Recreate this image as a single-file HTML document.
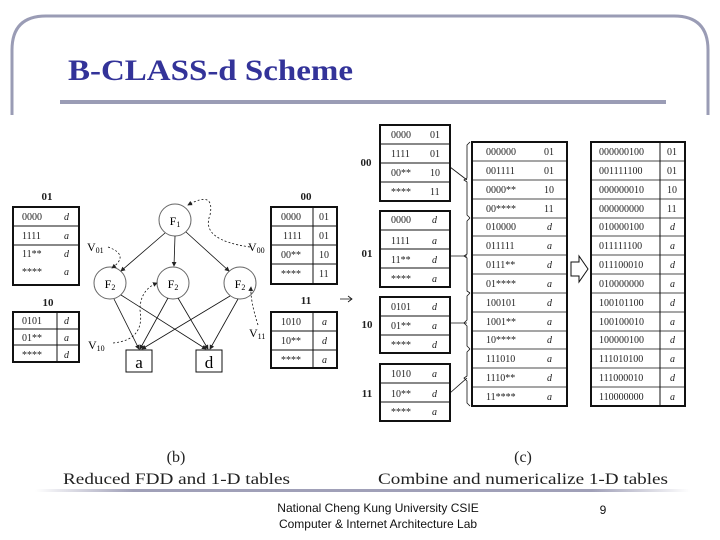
<!DOCTYPE html>
<html><head><meta charset="utf-8"><style>
body{margin:0;background:#fff;}
svg{display:block;font-family:"Liberation Serif",serif;}
.t{font-size:10px;fill:#222}
.i{font-size:10px;font-style:italic;fill:#222}
.b{font-size:11px;font-weight:bold;fill:#222}
</style></head><body>
<svg width="720" height="540" viewBox="0 0 720 540">
<defs>
<marker id="ar" markerWidth="6" markerHeight="6" refX="5" refY="3" orient="auto"><path d="M0,0 L6,3 L0,6 z" fill="#222"/></marker>
<linearGradient id="g" x1="0" x2="1"><stop offset="0" stop-color="#fff"/><stop offset="0.15" stop-color="#a0a0b8"/><stop offset="0.85" stop-color="#a0a0b8"/><stop offset="1" stop-color="#fff"/></linearGradient>
</defs>
<!-- frame -->
<path d="M12,115 L12,50 Q12,16 46,16 L674,16 Q708,16 708,50 L708,115" fill="none" stroke="#9a9cb5" stroke-width="3"/>
<rect x="60" y="100" width="606" height="4" fill="#9a9cb5"/>
<text x="68" y="80" textLength="285" lengthAdjust="spacingAndGlyphs" style="font-size:30px;font-weight:bold;fill:#333399">B-CLASS-d  Scheme</text>
<rect x="35" y="489" width="655" height="3" fill="url(#g)"/>
<text x="378" y="512" text-anchor="middle" style="font-family:'Liberation Sans',sans-serif;font-size:12px;fill:#111">National Cheng Kung University CSIE</text>
<text x="378" y="528" text-anchor="middle" style="font-family:'Liberation Sans',sans-serif;font-size:12px;fill:#111">Computer &amp; Internet Architecture Lab</text>
<text x="603" y="514" text-anchor="middle" style="font-family:'Liberation Sans',sans-serif;font-size:12px;fill:#111">9</text>

<g stroke="#111" fill="none">
<rect x="13" y="207" width="66" height="78" stroke-width="2"/>
<line x1="13" y1="226" x2="79" y2="226"/><line x1="13" y1="245" x2="79" y2="245"/>
<rect x="13" y="312" width="66" height="50" stroke-width="2"/>
<line x1="13" y1="329" x2="79" y2="329"/><line x1="13" y1="345" x2="79" y2="345"/><line x1="57" y1="312" x2="57" y2="362"/>
<rect x="271" y="207" width="66" height="77" stroke-width="2"/>
<line x1="271" y1="226" x2="337" y2="226"/><line x1="271" y1="245" x2="337" y2="245"/><line x1="271" y1="264" x2="337" y2="264"/><line x1="313" y1="207" x2="313" y2="284"/>
<rect x="271" y="312" width="66" height="56" stroke-width="2"/>
<line x1="271" y1="331" x2="337" y2="331"/><line x1="271" y1="350" x2="337" y2="350"/><line x1="313" y1="312" x2="313" y2="368"/>
<g stroke="#666"><circle cx="175" cy="220" r="16"/><circle cx="110" cy="283" r="16"/><circle cx="173" cy="283" r="16"/><circle cx="240" cy="283" r="16"/></g>
<rect x="126" y="350" width="26" height="22"/><rect x="196" y="350" width="26" height="22"/>
<g stroke-width="0.8" marker-end="url(#ar)">
<line x1="165" y1="233" x2="121" y2="271"/><line x1="175" y1="236" x2="174" y2="266"/><line x1="186" y1="232" x2="229" y2="271"/>
<line x1="114" y1="299" x2="139" y2="349"/><line x1="121" y1="295" x2="206" y2="349"/>
<line x1="168" y1="298" x2="140" y2="349"/><line x1="178" y1="298" x2="208" y2="349"/>
<line x1="230" y1="296" x2="142" y2="349"/><line x1="238" y1="299" x2="210" y2="349"/>
</g>
<g stroke-dasharray="2,2" stroke-width="0.8" marker-end="url(#ar)">
<path d="M108,247 Q130,255 112,268"/>
<path d="M113,343 Q145,340 140,310 Q140,290 157,283"/>
<path d="M250,247 Q200,240 210,215 Q215,190 188,205"/>
<path d="M258,325 Q250,300 251,287"/>
</g>
<path d="M340,299 L352,299 M348,296 L352,299 L348,302" stroke-width="0.8"/>
<rect x="380" y="125" width="70" height="76" stroke-width="2"/>
<line x1="380" y1="144" x2="450" y2="144"/><line x1="380" y1="163" x2="450" y2="163"/><line x1="380" y1="182" x2="450" y2="182"/>
<rect x="380" y="211" width="70" height="76" stroke-width="2"/>
<line x1="380" y1="230" x2="450" y2="230"/><line x1="380" y1="249" x2="450" y2="249"/><line x1="380" y1="268" x2="450" y2="268"/>
<rect x="380" y="297" width="70" height="56" stroke-width="2"/>
<line x1="380" y1="316" x2="450" y2="316"/><line x1="380" y1="335" x2="450" y2="335"/>
<rect x="380" y="364" width="70" height="57" stroke-width="2"/>
<line x1="380" y1="383" x2="450" y2="383"/><line x1="380" y1="402" x2="450" y2="402"/>
<g stroke-width="0.8">
<path d="M450,167 L467,180"/><path d="M450,256 L467,256"/><path d="M450,323 L467,323"/><path d="M450,393 L467,378"/>
<path d="M470,142 L467,145 L467,178 L464,180 L467,182 L467,215 L470,218"/>
<path d="M470,218 L467,221 L467,254 L464,256 L467,258 L467,291 L470,293"/>
<path d="M470,293 L467,296 L467,320 L464,323 L467,326 L467,346 L470,349"/>
<path d="M470,349 L467,352 L467,376 L464,378 L467,381 L467,403 L470,406"/>
</g>
<rect x="472" y="142" width="95" height="264" stroke-width="2"/>
<rect x="591" y="142" width="94" height="264" stroke-width="2"/>
<line x1="660" y1="142" x2="660" y2="406"/>
<g stroke-width="0.8">
<path d="M472,161H567M472,180H567M472,199H567M472,218H567M472,236H567M472,255H567M472,274H567M472,293H567M472,312H567M472,331H567M472,349H567M472,368H567M472,387H567"/>
<path d="M591,161H685M591,180H685M591,199H685M591,218H685M591,236H685M591,255H685M591,274H685M591,293H685M591,312H685M591,331H685M591,349H685M591,368H685M591,387H685"/>
</g>
<path d="M571,262 L579,262 L579,256 L588,269 L579,282 L579,276 L571,276 Z" stroke-width="1"/>
</g>

<text class="b" x="47" y="200" text-anchor="middle">01</text>
<text class="t" x="22" y="220">0000</text><text class="i" x="64" y="220">d</text>
<text class="t" x="22" y="239">1111</text><text class="i" x="64" y="239">a</text>
<text class="t" x="22" y="257">11**</text><text class="i" x="64" y="257">d</text>
<text class="t" x="22" y="275">****</text><text class="i" x="64" y="275">a</text>
<text class="b" x="48" y="306" text-anchor="middle">10</text>
<text class="t" x="22" y="324">0101</text><text class="i" x="64" y="324">d</text>
<text class="t" x="22" y="341">01**</text><text class="i" x="64" y="341">a</text>
<text class="t" x="22" y="358">****</text><text class="i" x="64" y="358">d</text>
<text class="b" x="306" y="200" text-anchor="middle">00</text>
<text class="t" x="281" y="220">0000</text><text class="t" x="319" y="220">01</text>
<text class="t" x="283" y="239">1111</text><text class="t" x="319" y="239">01</text>
<text class="t" x="281" y="258">00**</text><text class="t" x="319" y="258">10</text>
<text class="t" x="281" y="277">****</text><text class="t" x="319" y="277">11</text>
<text class="b" x="306" y="304" text-anchor="middle">11</text>
<text class="t" x="281" y="325">1010</text><text class="i" x="322" y="325">a</text>
<text class="t" x="281" y="344">10**</text><text class="i" x="322" y="344">d</text>
<text class="t" x="281" y="363">****</text><text class="i" x="322" y="363">a</text>
<text x="175" y="225" text-anchor="middle" style="font-size:12px">F<tspan font-size="8" dy="2">1</tspan></text>
<text x="110" y="288" text-anchor="middle" style="font-size:12px">F<tspan font-size="8" dy="2">2</tspan></text>
<text x="173" y="288" text-anchor="middle" style="font-size:12px">F<tspan font-size="8" dy="2">2</tspan></text>
<text x="240" y="288" text-anchor="middle" style="font-size:12px">F<tspan font-size="8" dy="2">2</tspan></text>
<text x="87" y="251" style="font-size:12px">V<tspan font-size="8" dy="2">01</tspan></text>
<text x="88" y="349" style="font-size:12px">V<tspan font-size="8" dy="2">10</tspan></text>
<text x="248" y="251" style="font-size:12px">V<tspan font-size="8" dy="2">00</tspan></text>
<text x="249" y="337" style="font-size:12px">V<tspan font-size="8" dy="2">11</tspan></text>
<text x="139" y="368" text-anchor="middle" style="font-size:17px">a</text>
<text x="209" y="368" text-anchor="middle" style="font-size:17px">d</text>
<text class="b" x="366" y="166" text-anchor="middle">00</text>
<text class="b" x="367" y="257" text-anchor="middle">01</text>
<text class="b" x="367" y="328" text-anchor="middle">10</text>
<text class="b" x="367" y="397" text-anchor="middle">11</text>
<text class="t" x="391" y="138">0000</text><text class="t" x="430" y="138">01</text>
<text class="t" x="391" y="157">1111</text><text class="t" x="430" y="157">01</text>
<text class="t" x="391" y="176">00**</text><text class="t" x="430" y="176">10</text>
<text class="t" x="391" y="195">****</text><text class="t" x="430" y="195">11</text>
<text class="t" x="391" y="223">0000</text><text class="i" x="432" y="223">d</text>
<text class="t" x="391" y="244">1111</text><text class="i" x="432" y="244">a</text>
<text class="t" x="391" y="263">11**</text><text class="i" x="432" y="263">d</text>
<text class="t" x="391" y="282">****</text><text class="i" x="432" y="282">a</text>
<text class="t" x="391" y="310">0101</text><text class="i" x="432" y="310">d</text>
<text class="t" x="391" y="329">01**</text><text class="i" x="432" y="329">a</text>
<text class="t" x="391" y="348">****</text><text class="i" x="432" y="348">d</text>
<text class="t" x="391" y="377">1010</text><text class="i" x="432" y="377">a</text>
<text class="t" x="391" y="397">10**</text><text class="i" x="432" y="397">d</text>
<text class="t" x="391" y="415">****</text><text class="i" x="432" y="415">a</text>
<text class="t" x="486" y="155">000000</text><text class="t" x="544" y="155">01</text>
<text class="t" x="486" y="174">001111</text><text class="t" x="544" y="174">01</text>
<text class="t" x="486" y="193">0000**</text><text class="t" x="544" y="193">10</text>
<text class="t" x="486" y="212">00****</text><text class="t" x="544" y="212">11</text>
<text class="t" x="486" y="230">010000</text><text class="i" x="547" y="230">d</text>
<text class="t" x="486" y="249">011111</text><text class="i" x="547" y="249">a</text>
<text class="t" x="486" y="268">0111**</text><text class="i" x="547" y="268">d</text>
<text class="t" x="486" y="287">01****</text><text class="i" x="547" y="287">a</text>
<text class="t" x="486" y="306">100101</text><text class="i" x="547" y="306">d</text>
<text class="t" x="486" y="325">1001**</text><text class="i" x="547" y="325">a</text>
<text class="t" x="486" y="343">10****</text><text class="i" x="547" y="343">d</text>
<text class="t" x="486" y="362">111010</text><text class="i" x="547" y="362">a</text>
<text class="t" x="486" y="381">1110**</text><text class="i" x="547" y="381">d</text>
<text class="t" x="486" y="400">11****</text><text class="i" x="547" y="400">a</text>
<text class="t" x="599" y="155">000000100</text><text class="t" x="667" y="155">01</text>
<text class="t" x="599" y="174">001111100</text><text class="t" x="667" y="174">01</text>
<text class="t" x="599" y="193">000000010</text><text class="t" x="667" y="193">10</text>
<text class="t" x="599" y="212">000000000</text><text class="t" x="667" y="212">11</text>
<text class="t" x="599" y="230">010000100</text><text class="i" x="670" y="230">d</text>
<text class="t" x="599" y="249">011111100</text><text class="i" x="670" y="249">a</text>
<text class="t" x="599" y="268">011100010</text><text class="i" x="670" y="268">d</text>
<text class="t" x="599" y="287">010000000</text><text class="i" x="670" y="287">a</text>
<text class="t" x="599" y="306">100101100</text><text class="i" x="670" y="306">d</text>
<text class="t" x="599" y="325">100100010</text><text class="i" x="670" y="325">a</text>
<text class="t" x="599" y="343">100000100</text><text class="i" x="670" y="343">d</text>
<text class="t" x="599" y="362">111010100</text><text class="i" x="670" y="362">a</text>
<text class="t" x="599" y="381">111000010</text><text class="i" x="670" y="381">d</text>
<text class="t" x="599" y="400">110000000</text><text class="i" x="670" y="400">a</text>
<text x="176" y="462" text-anchor="middle" style="font-size:16px;fill:#222">(b)</text>
<text x="63" y="484" textLength="227" lengthAdjust="spacingAndGlyphs" style="font-size:16px;fill:#222">Reduced FDD and 1-D tables</text>
<text x="523" y="462" text-anchor="middle" style="font-size:16px;fill:#222">(c)</text>
<text x="378" y="484" textLength="290" lengthAdjust="spacingAndGlyphs" style="font-size:16px;fill:#222">Combine and numericalize  1-D tables</text>
</svg>
</body></html>
